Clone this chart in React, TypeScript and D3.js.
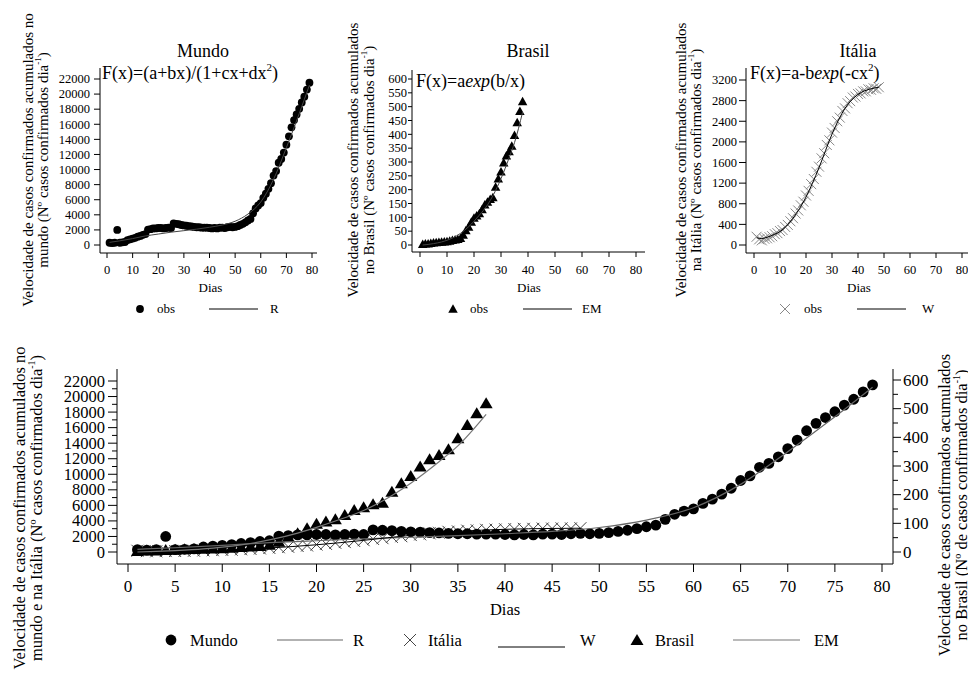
import React from 'react';
import * as d3 from 'd3';

// ---------- DATA ----------
const mundoObs = [300,250,300,2000,300,350,400,650,750,850,950,1100,1200,1350,1450,2050,2100,2200,2200,2250,2250,2200,2250,2300,2250,2850,2800,2750,2650,2600,2550,2500,2450,2400,2350,2350,2300,2300,2300,2250,2200,2250,2200,2300,2300,2250,2350,2400,2350,2400,2500,2650,2800,3000,3250,3450,4200,4850,5250,5550,6250,6800,7450,8200,9200,9800,10900,11400,12250,13300,14400,15600,16550,17300,18050,18900,19650,20600,21500];
const brasilObs = [3,5,5,7,8,9,10,11,12,13,15,17,19,21,25,36,53,65,83,98,106,114,129,146,156,166,172,210,240,265,298,323,338,358,397,443,484,519];
const italiaObs = [160,110,90,120,130,150,170,210,230,270,290,350,390,460,520,610,670,770,840,960,1050,1180,1280,1420,1520,1680,1780,1940,2030,2180,2270,2400,2470,2600,2650,2750,2790,2860,2880,2930,2940,2980,2980,3020,3010,3040,3030,3060];

const rFitDays = [1,5,10,15,20,25,30,35,40,45,50,55,60,65,70,75,79];
const rFitVals = [350,550,850,1200,1450,1700,1900,2100,2350,2650,3150,4100,5700,8700,12900,17400,21200];
const emFitDays = [1,3,5,8,10,12,15,18,20,22,25,27,30,33,35,38];
const emFitVals = [0,2,5,11,17,25,42,66,86,108,145,178,240,315,370,480];
const wFitDays = [1,3,5,8,10,15,20,25,30,35,40,45,48];
const wFitVals = [140,125,150,210,260,520,930,1500,2150,2650,2920,3030,3060];

const xTicksTop = [0,10,20,30,40,50,60,70,80];
const xTicksBottom = [0,5,10,15,20,25,30,35,40,45,50,55,60,65,70,75,80];
const yTicksMundo = [0,2000,4000,6000,8000,10000,12000,14000,16000,18000,20000,22000];
const yTicksBrasil = [0,50,100,150,200,250,300,350,400,450,500,550,600];
const yTicksItalia = [0,400,800,1200,1600,2000,2400,2800,3200];
const yTicksLeftMinor = [1000,3000,5000,7000,9000,11000,13000,15000,17000,19000,21000];
const yTicksRight = [0,100,200,300,400,500,600];
const yTicksRightMinor = [50,150,250,350,450,550];

const FONT = "'Liberation Serif', 'Times New Roman', serif";

const toPts = (vals: number[], daysArr?: number[]) =>
  vals.map((v, i) => [daysArr ? daysArr[i] : i + 1, v] as [number, number]);

const tri = (cx: number, cy: number, w: number, h: number) =>
  `M${cx},${cy - h * 0.55}L${cx + w / 2},${cy + h * 0.45}L${cx - w / 2},${cy + h * 0.45}Z`;
const xMark = (cx: number, cy: number, s: number) =>
  `M${cx - s},${cy - s}L${cx + s},${cy + s}M${cx - s},${cy + s}L${cx + s},${cy - s}`;

type Marker = 'circle' | 'tri' | 'x';

function MarkerShape({ kind, cx, cy, big }: { kind: Marker; cx: number; cy: number; big?: boolean }) {
  if (kind === 'circle') return <circle cx={cx} cy={cy} r={big ? 5.4 : 3.9} fill="#000" />;
  if (kind === 'tri') return <path d={big ? tri(cx, cy, 13, 11) : tri(cx, cy, 9.5, 8.5)} fill="#000" />;
  return <path d={xMark(cx, cy, big ? 6 : 5)} stroke={big ? '#444' : '#888'} strokeWidth={1} fill="none" />;
}

function YTitle({ x1, x2, cy, line1, line2, size }: { x1: number; x2: number; cy: number; line1: string; line2: string; size: number }) {
  return (
    <g fontFamily={FONT} fontSize={size} fill="#000">
      <text transform={`translate(${x1},${cy}) rotate(-90)`} textAnchor="middle">{line1}</text>
      <text transform={`translate(${x2},${cy}) rotate(-90)`} textAnchor="middle">
        {line2}
        <tspan dy={-size * 0.45} fontSize={size * 0.6}>-1</tspan>
        <tspan dy={size * 0.45}>)</tspan>
      </text>
    </g>
  );
}

interface PanelProps {
  title: string;
  titleX: number;
  formula: React.ReactNode;
  fx: number;
  fy: number;
  xRange: [number, number];
  axisX: [number, number];
  axisYTop: number;
  axisYBottom: number;
  yMax: number;
  yTicks: number[];
  yRange: [number, number];
  tickLen: number;
  labelEnd: number;
  obs: number[];
  marker: Marker;
  fitDays: number[];
  fitVals: number[];
  fitColor: string;
  legend: { mx: number; tx: number; l1: number; l2: number; fitLabel: string; fx: number };
  ytitle: { x1: number; x2: number; line1: string; line2: string };
}

function Panel(p: PanelProps) {
  const x = d3.scaleLinear().domain([0, 80]).range(p.xRange);
  const y = d3.scaleLinear().domain([0, p.yMax]).range(p.yRange);
  const line = d3.line<[number, number]>().x(d => x(d[0])).y(d => y(d[1])).curve(d3.curveMonotoneX);
  const axisX0 = p.axisX[0];
  return (
    <g fontFamily={FONT}>
      <YTitle x1={p.ytitle.x1} x2={p.ytitle.x2} cy={160} line1={p.ytitle.line1} line2={p.ytitle.line2} size={15} />
      <text x={p.titleX} y={57} textAnchor="middle" fontSize={18}>{p.title}</text>
      {/* axes */}
      <line x1={axisX0} x2={axisX0} y1={p.axisYTop} y2={p.axisYBottom} stroke="#000" />
      <line x1={axisX0} x2={p.axisX[1]} y1={p.axisYBottom} y2={p.axisYBottom} stroke="#000" />
      {p.yTicks.map(t => (
        <g key={t}>
          <line x1={axisX0 - p.tickLen} x2={axisX0} y1={y(t)} y2={y(t)} stroke="#000" />
          <text x={p.labelEnd} y={y(t) + 4.3} textAnchor="end" fontSize={12.5}>{t}</text>
        </g>
      ))}
      {xTicksTop.map(t => (
        <g key={t}>
          <line x1={x(t)} x2={x(t)} y1={p.axisYBottom} y2={p.axisYBottom + 5} stroke="#000" />
          <text x={x(t)} y={274} textAnchor="middle" fontSize={12.5}>{t}</text>
        </g>
      ))}
      <text x={(p.xRange[0] + p.xRange[1]) / 2 + 1} y={292} textAnchor="middle" fontSize={13}>Dias</text>
      {/* data */}
      {p.obs.map((v, i) => (
        <MarkerShape key={i} kind={p.marker} cx={x(i + 1)} cy={y(v)} />
      ))}
      <path d={line(toPts(p.fitVals, p.fitDays)) || ''} fill="none" stroke={p.fitColor} strokeWidth={1} />
      <g fontFamily={FONT} fontSize={18}>
        <text x={p.fx} y={p.fy}>{p.formula}</text>
      </g>
      {/* legend */}
      <MarkerShape kind={p.marker} cx={p.legend.mx} cy={309} />
      <text x={p.legend.tx} y={313} fontSize={13}>obs</text>
      <line x1={p.legend.l1} x2={p.legend.l2} y1={309} y2={309} stroke="#000" />
      <text x={p.legend.fx} y={313} fontSize={13}>{p.legend.fitLabel}</text>
    </g>
  );
}

function Bottom() {
  const x = d3.scaleLinear().domain([0, 80]).range([128, 882]);
  const yL = d3.scaleLinear().domain([0, 22000]).range([552, 381]);
  const yR = d3.scaleLinear().domain([0, 600]).range([552, 380]);
  const lineL = d3.line<[number, number]>().x(d => x(d[0])).y(d => yL(d[1])).curve(d3.curveMonotoneX);
  const lineR = d3.line<[number, number]>().x(d => x(d[0])).y(d => yR(d[1])).curve(d3.curveMonotoneX);
  const top = 369, bot = 564, left = 117, right = 893;
  return (
    <g fontFamily={FONT}>
      <YTitle x1={25} x2={42} cy={508} line1="Velocidade de casos confirmados acumulados no" line2="mundo e na Itália (Nº casos confirmados dia" size={16.5} />
      <YTitle x1={950} x2={967} cy={505} line1="Velocidade de casos confirmados acumulados" line2="no Brasil (Nº de casos confirmados dia" size={16.5} />
      <line x1={left} x2={left} y1={top} y2={bot} stroke="#000" />
      <line x1={right} x2={right} y1={top} y2={bot} stroke="#000" />
      <line x1={left} x2={right} y1={bot} y2={bot} stroke="#000" />
      {yTicksMundo.map(t => (
        <g key={t}>
          <line x1={left - 9} x2={left} y1={yL(t)} y2={yL(t)} stroke="#000" />
          <text x={105} y={yL(t) + 5.5} textAnchor="end" fontSize={16.5}>{t}</text>
        </g>
      ))}
      {yTicksLeftMinor.map(t => (
        <line key={t} x1={left - 5} x2={left} y1={yL(t)} y2={yL(t)} stroke="#000" />
      ))}
      {yTicksRight.map(t => (
        <g key={t}>
          <line x1={right} x2={right + 8} y1={yR(t)} y2={yR(t)} stroke="#000" />
          <text x={903} y={yR(t) + 5.8} textAnchor="start" fontSize={17}>{t}</text>
        </g>
      ))}
      {yTicksRightMinor.map(t => (
        <line key={t} x1={right} x2={right + 5} y1={yR(t)} y2={yR(t)} stroke="#000" />
      ))}
      {xTicksBottom.map(t => (
        <g key={t}>
          <line x1={x(t)} x2={x(t)} y1={bot} y2={bot + 8} stroke="#000" />
          <text x={x(t)} y={592} textAnchor="middle" fontSize={17}>{t}</text>
        </g>
      ))}
      <text x={505} y={615} textAnchor="middle" fontSize={16.5}>Dias</text>
      {/* data */}
      {italiaObs.map((v, i) => <MarkerShape key={'i' + i} kind="x" big cx={x(i + 1)} cy={yL(v)} />)}
      {mundoObs.map((v, i) => <MarkerShape key={'m' + i} kind="circle" big cx={x(i + 1)} cy={yL(v)} />)}
      {brasilObs.map((v, i) => <MarkerShape key={'b' + i} kind="tri" big cx={x(i + 1)} cy={yR(v)} />)}
      <path d={lineL(toPts(rFitVals, rFitDays)) || ''} fill="none" stroke="#666" strokeWidth={1.2} />
      <path d={lineL(toPts(wFitVals, wFitDays)) || ''} fill="none" stroke="#000" strokeWidth={1} />
      <path d={lineR(toPts(emFitVals, emFitDays)) || ''} fill="none" stroke="#777" strokeWidth={1.2} />
      {/* legend */}
      <g fontSize={16.5}>
        <MarkerShape kind="circle" big cx={171} cy={640} />
        <text x={190} y={646}>Mundo</text>
        <line x1={277} x2={343} y1={640} y2={640} stroke="#666" strokeWidth={1.2} />
        <text x={353} y={646}>R</text>
        <MarkerShape kind="x" big cx={410} cy={640} />
        <text x={428} y={646}>Itália</text>
        <line x1={498} x2={565} y1={647} y2={647} stroke="#000" />
        <text x={580} y={646}>W</text>
        <MarkerShape kind="tri" big cx={637} cy={640} />
        <text x={655} y={646}>Brasil</text>
        <line x1={733} x2={800} y1={640} y2={640} stroke="#777" strokeWidth={1.2} />
        <text x={814} y={646}>EM</text>
      </g>
    </g>
  );
}

export default function App() {
  return (
    <svg width={968} height={679} style={{ position: 'absolute', left: 0, top: 0, background: '#fff' }}>
      <rect width={968} height={679} fill="#fff" />
      <Panel
        title="Mundo" titleX={203}
        formula={<>F(x)=(a+bx)/(1+cx+dx<tspan dy={-8} fontSize={11}>2</tspan><tspan dy={8}>)</tspan></>}
        fx={102} fy={79}
        xRange={[107, 312]} axisX={[100, 317]} axisYTop={68} axisYBottom={253}
        yMax={22000} yTicks={yTicksMundo} yRange={[245, 79]} tickLen={6} labelEnd={90}
        obs={mundoObs} marker="circle" fitDays={rFitDays} fitVals={rFitVals} fitColor="#444"
        legend={{ mx: 140, tx: 157, l1: 209, l2: 258, fitLabel: 'R', fx: 270 }}
        ytitle={{ x1: 33, x2: 48, line1: 'Velocidade de casos confirmados acumulados no', line2: 'mundo (Nº casos confirmados dia' }}
      />
      <Panel
        title="Brasil" titleX={528}
        formula={<>F(x)=a<tspan fontStyle="italic">exp</tspan>(b/x)</>}
        fx={416} fy={87}
        xRange={[420, 636]} axisX={[412, 645]} axisYTop={70} axisYBottom={252}
        yMax={600} yTicks={yTicksBrasil} yRange={[245, 79]} tickLen={4} labelEnd={407}
        obs={brasilObs} marker="tri" fitDays={emFitDays} fitVals={emFitVals} fitColor="#444"
        legend={{ mx: 453, tx: 470, l1: 523, l2: 572, fitLabel: 'EM', fx: 582 }}
        ytitle={{ x1: 358, x2: 374, line1: 'Velocidade de casos confirmados acumulados', line2: 'no Brasil (Nº casos confirmados dia' }}
      />
      <Panel
        title="Itália" titleX={858}
        formula={<>F(x)=a-b<tspan fontStyle="italic">exp</tspan>(-cx<tspan dy={-8} fontSize={11}>2</tspan><tspan dy={8}>)</tspan></>}
        fx={750} fy={79}
        xRange={[754, 962]} axisX={[746, 968]} axisYTop={68} axisYBottom={253}
        yMax={3200} yTicks={yTicksItalia} yRange={[245, 80]} tickLen={7} labelEnd={737}
        obs={italiaObs} marker="x" fitDays={wFitDays} fitVals={wFitVals} fitColor="#000"
        legend={{ mx: 785, tx: 804, l1: 857, l2: 906, fitLabel: 'W', fx: 922 }}
        ytitle={{ x1: 686, x2: 701, line1: 'Velocidade de casos confirmados acumulados', line2: 'na Itália (Nº casos confirmados dia' }}
      />
      <Bottom />
    </svg>
  );
}
